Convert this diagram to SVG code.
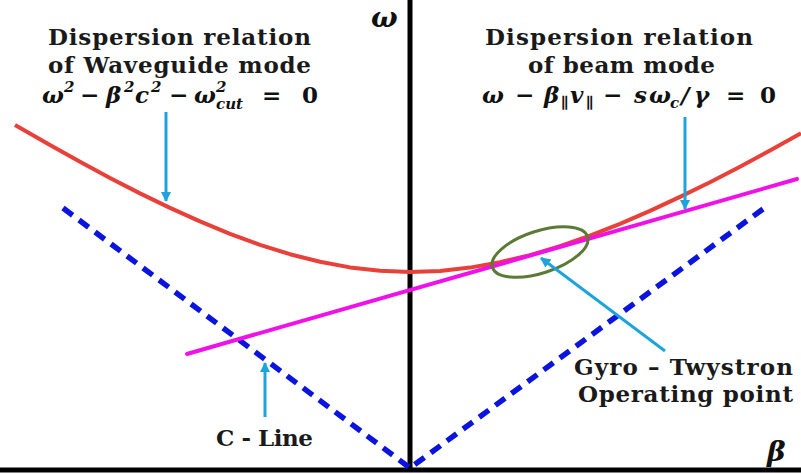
<svg xmlns="http://www.w3.org/2000/svg" width="801" height="474" viewBox="0 0 801 474">
<defs>
<style>
.h{font-family:"DejaVu Serif","Liberation Serif",serif;font-weight:bold;font-size:23px;fill:#1a1a1a}
.m{font-family:"DejaVu Serif","Liberation Serif",serif;font-weight:bold;font-style:italic;font-size:23px;fill:#111}
.up{font-style:normal}
.s{font-size:15px}
.ax{stroke:#000;stroke-width:5;fill:none}
.c{stroke:#1ea3dd;stroke-width:3;fill:none;marker-end:url(#ah)}
.dash{stroke:#0a14dc;stroke-width:5.5;fill:none;stroke-dasharray:12 8}
</style>
<marker id="ah" viewBox="0 0 10 10" refX="9" refY="5" markerWidth="3.4" markerHeight="3.4" orient="auto" markerUnits="strokeWidth">
<path d="M0,0 L10,5 L0,10 z" fill="#1ea3dd"/>
</marker>
</defs>
<rect width="801" height="474" fill="#fff"/>
<g id="axes">
<line class="ax" x1="410" y1="0" x2="410" y2="470"/>
<line class="ax" x1="0" y1="470" x2="801" y2="470"/>
<text class="m" x="371" y="27" style="font-size:28px">ω</text>
<text class="m" x="767" y="461" style="font-size:28px">β</text>
</g>
<g id="c-line">
<line class="dash" x1="63" y1="208" x2="410" y2="468"/>
<line class="dash" x1="763" y1="209" x2="410" y2="468"/>
</g>
<g id="waveguide-curve">
<polyline fill="none" stroke="#e8413a" stroke-width="4" stroke-linejoin="round" points="15,124.9 50,145.1 80,161.8 110,178 140,193.4 170,207.9 200,221.4 230,233.8 260,244.8 290,254.2 320,261.8 350,267.4 380,270.8 410,272 440,270.9 470,267.6 500,262.3 530,255.1 560,246.1 590,235.7 620,223.8 650,210.9 680,196.9 710,182.2 740,166.7 770,150.5 801,133.3"/>
</g>
<g id="beam-line">
<line x1="187" y1="354" x2="797" y2="179" stroke="#f010e8" stroke-width="4" stroke-linecap="round"/>
</g>
<g id="operating-point">
<ellipse cx="540" cy="252" rx="50" ry="21" transform="rotate(-18 540 252)" fill="none" stroke="#5b7a35" stroke-width="3"/>
</g>
<g id="connectors">
<line class="c" x1="166" y1="112" x2="166" y2="201"/>
<line class="c" x1="685" y1="117" x2="685" y2="209"/>
<line class="c" x1="265" y1="417" x2="265" y2="363"/>
<line class="c" x1="665" y1="351" x2="541" y2="258"/>
</g>
<g id="waveguide-label">
<text class="h" x="48" y="45" textLength="263">Dispersion relation</text>
<text class="h" x="48" y="73" textLength="263">of Waveguide mode</text>
<text class="m"><tspan x="42" y="103">ω</tspan><tspan class="s" x="64" y="92">2</tspan><tspan class="up" x="80" y="103">−</tspan><tspan x="106" y="103">β</tspan><tspan class="s" x="124" y="92">2</tspan><tspan x="135" y="103">c</tspan><tspan class="s" x="151" y="92">2</tspan><tspan class="up" x="169" y="103">−</tspan><tspan x="194" y="103">ω</tspan><tspan class="s" x="216" y="92">2</tspan><tspan class="s" x="216" y="109">cut</tspan><tspan class="up" x="262" y="103">=</tspan><tspan class="up" x="302" y="103">0</tspan></text>
</g>
<g id="beam-label">
<text class="h" x="485" y="45" textLength="268">Dispersion relation</text>
<text class="h" x="528" y="73" textLength="187">of beam mode</text>
<text class="m"><tspan x="482" y="103">ω</tspan><tspan class="up" x="515" y="103">−</tspan><tspan x="544" y="103">β</tspan><tspan class="s up" x="561" y="108">∥</tspan><tspan x="570" y="103">v</tspan><tspan class="s up" x="586" y="108">∥</tspan><tspan class="up" x="603" y="103">−</tspan><tspan x="634" y="103">s</tspan><tspan x="649" y="103">ω</tspan><tspan class="s" x="670" y="108">c</tspan><tspan x="681" y="103">/</tspan><tspan x="694" y="103">γ</tspan><tspan class="up" x="726" y="103">=</tspan><tspan class="up" x="760" y="103">0</tspan></text>
</g>
<g id="c-line-label">
<text class="h" x="216" y="446" textLength="97">C - Line</text>
</g>
<g id="gyro-label">
<text class="h" x="574" y="375" textLength="219">Gyro – Twystron</text>
<text class="h" x="578" y="402" textLength="215">Operating point</text>
</g>
</svg>
